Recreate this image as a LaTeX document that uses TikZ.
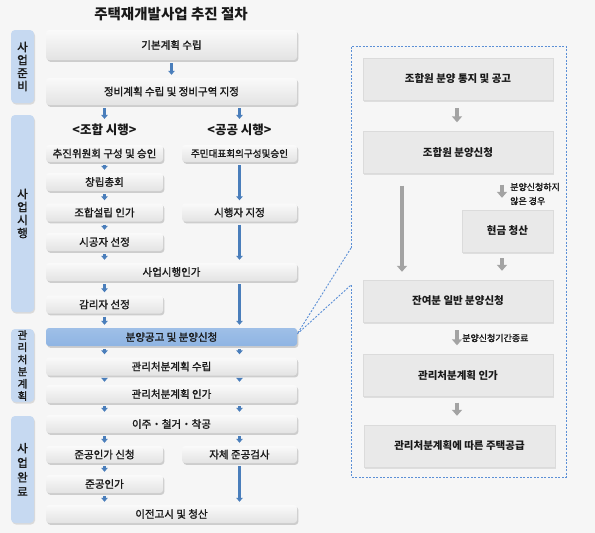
\documentclass[tikz,border=0pt]{standalone}
\usepackage{fontspec}
\setmainfont{Noto Sans CJK KR}
\newfontfamily\medfont{Noto Sans CJK KR}[FakeBold=1.5]
\usetikzlibrary{arrows.meta,shadows}
\definecolor{pagebg}{HTML}{F6F6F6}
\definecolor{catblue}{HTML}{C6D9F1}
\definecolor{hiblue}{HTML}{8EB4E3}
\definecolor{arrblue}{HTML}{4A7EBB}
\definecolor{boxgray}{HTML}{E9E9E9}
\definecolor{garrcol}{HTML}{A3A3A3}
\definecolor{framecol}{HTML}{5B8FD6}
\begin{document}
\begin{tikzpicture}[
  x=1pt, y=-1pt,
  every node/.style = {
    font=\medfont\fontsize{10.5}{12}\selectfont,
    text=black!90,
    inner sep=0pt
  },
  cat/.style = {rounded corners=4pt, fill=catblue, minimum width=23pt, align=center,
    font=\medfont\fontsize{11.5}{13}\selectfont,
    drop shadow={shadow xshift=1pt, shadow yshift=-1.5pt, fill=black!25}},
  lbox/.style = {rounded corners=3pt, top color=black!2, bottom color=black!11,
    minimum height=18pt,
    drop shadow={shadow xshift=1.3pt, shadow yshift=-1.8pt, fill=black!35}},
  hbox/.style = {lbox, top color=hiblue!85, bottom color=hiblue},
  colL/.style = {minimum width=117pt},
  colR/.style = {minimum width=115pt},
  colF/.style = {minimum width=251pt},
  lbl/.style = {font=\bfseries\fontsize{12.5}{14}\selectfont, inner sep=2pt},
  barrow/.style = {draw=arrblue, line width=2.2pt, -{Triangle[width=6.5pt,length=4pt]},
    shorten <=3pt, shorten >=3pt},
  rbox/.style = {fill=boxgray, draw=black!14, minimum height=42pt,
    font=\bfseries\fontsize{10.5}{12}\selectfont,
    drop shadow={shadow xshift=1.2pt, shadow yshift=-1.5pt, fill=black!22}},
  garrow/.style = {draw=garrcol, line width=4pt, -{Triangle[width=10pt,length=6pt]},
    shorten <=8pt, shorten >=9pt},
  callout/.style = {draw=framecol, line width=0.9pt, dash pattern=on 2pt off 1.5pt},
  note/.style = {font=\medfont\fontsize{9}{14}\selectfont, align=left, anchor=west}
]
    \fill[pagebg] (0,0) rectangle (595,533);
    \useasboundingbox (0,0) rectangle (595,533);

    \node[font=\bfseries\fontsize{14.5}{16}\selectfont] (title) at (171,14) {주택재개발사업 추진 절차};

    \node[cat, minimum height=73pt] (cat1) at (22.5,66.5) {사\\업\\준\\비};
    \node[cat, minimum height=197pt] (cat2) at (22.5,213.5) {사\\업\\시\\행};
    \node[cat, minimum height=73pt, font=\medfont\fontsize{10.5}{12.2}\selectfont] (cat3) at (22.5,365.5) {관\\리\\처\\분\\계\\획};
    \node[cat, minimum height=107pt, font=\medfont\fontsize{11.5}{14.5}\selectfont] (cat4) at (22.5,469.5) {사\\업\\완\\료};

    \coordinate (lcol) at (104.5,0);
    \coordinate (mcol) at (171.5,0);
    \coordinate (rcol) at (239.5,0);

    \node[lbox, colF, minimum height=30pt] (kb) at (171.5,45) {기본계획 수립};
    \node[lbox, colF, minimum height=27pt] (jb) at (171.5,91.5) {정비계획 수립 및 정비구역 지정};
    \node[lbl] (lbl1) at (104.5,130) {<조합 시행>};
    \node[lbl] (lbl2) at (239.5,130) {<공공 시행>};
    \node[lbox, colL, minimum height=17pt] (chu) at (104.5,153.5) {추진위원회 구성 및 승인};
    \node[lbox, colR, minimum height=17pt, font=\medfont\fontsize{9.6}{12}\selectfont] (jumin) at (239.5,153.5) {주민대표회의구성및승인};
    \node[lbox, colL] (changrip) at (104.5,182) {창립총회};
    \node[lbox, colL] (johap) at (104.5,212.5) {조합설립 인가};
    \node[lbox, colR] (sihaeng) at (239.5,212.5) {시행자 지정};
    \node[lbox, colL] (sigong) at (104.5,242) {시공자 선정};
    \node[lbox, colF] (saup) at (171.5,272) {사업시행인가};
    \node[lbox, colL] (gamri) at (104.5,304.5) {감리자 선정};
    \node[hbox, colF] (bunyang) at (171.5,337) {분양공고 및 분양신청};
    \node[lbox, colF] (gwanri1) at (171.5,366.5) {관리처분계획 수립};
    \node[lbox, colF] (gwanri2) at (171.5,394) {관리처분계획 인가};
    \node[lbox, colF] (iju) at (171.5,424) {이주・철거・착공};
    \node[lbox, colL, minimum height=17pt] (jgsin) at (104.5,454.5) {준공인가 신청};
    \node[lbox, colR, minimum height=17pt] (jache) at (239.5,454.5) {자체 준공검사};
    \node[lbox, colL] (jgin) at (104.5,484) {준공인가};
    \node[lbox, colF] (ijeon) at (171.5,514) {이전고시 및 청산};

    \draw[barrow] (kb.south -| mcol) -- (jb.north -| mcol);
    \foreach \a/\b in {jb/lbl1, chu/changrip, changrip/johap, johap/sigong, sigong/saup,
        saup/gamri, gamri/bunyang, bunyang/gwanri1, gwanri1/gwanri2, gwanri2/iju,
        iju/jgsin, jgsin/jgin, jgin/ijeon}{
        \draw[barrow] (\a.south -| lcol) -- (\b.north -| lcol);
    }
    \foreach \a/\b in {jb/lbl2, jumin/sihaeng, sihaeng/saup, saup/bunyang, bunyang/gwanri1,
        gwanri1/gwanri2, gwanri2/iju, iju/jache, jache/ijeon}{
        \draw[barrow] (\a.south -| rcol) -- (\b.north -| rcol);
    }

    \node[rbox, minimum width=190pt] (r1) at (458,79) {조합원 분양 통지 및 공고};
    \node[rbox, minimum width=190pt] (r2) at (458,152.5) {조합원 분양신청};
    \node[rbox, minimum width=91pt] (r3) at (507.5,231) {현금 청산};
    \node[rbox, minimum width=190pt] (r4) at (458,301) {잔여분 일반 분양신청};
    \node[rbox, minimum width=190pt] (r5) at (458,375.5) {관리처분계획 인가};
    \node[rbox, minimum width=191pt] (r6) at (459.5,446) {관리처분계획에 따른 주택공급};

    \coordinate (gc) at (457,0);
    \coordinate (gl) at (402,0);
    \coordinate (gr) at (502,0);
    \draw[garrow] (r1.south -| gc) -- (r2.north -| gc);
    \draw[garrow, shorten <=12pt, shorten >=8pt] (r2.south -| gl) -- (r4.north -| gl);
    \draw[garrow, shorten <=11pt, shorten >=12pt] (r2.south -| gr) -- (r3.north -| gr);
    \draw[garrow, shorten <=6pt] (r3.south -| gr) -- (r4.north -| gr);
    \draw[garrow] (r4.south -| gc) -- (r5.north -| gc);
    \draw[garrow, shorten <=6pt] (r5.south -| gc) -- (r6.north -| gc);

    \node[note] (n1) at (510,194) {분양신청하지\\않은 경우};
    \node[note] (n2) at (462,338) {분양신청기간종료};

    \coordinate (gapT) at (351,248);
    \coordinate (gapB) at (351,285);
    \draw[callout] (gapT) -- (351,46) -- (566,46) -- (566,477) -- (351,477) -- (gapB);
    \draw[callout] (gapT) -- ([yshift=3pt]bunyang.east) -- (gapB);
\end{tikzpicture}
\end{document}
